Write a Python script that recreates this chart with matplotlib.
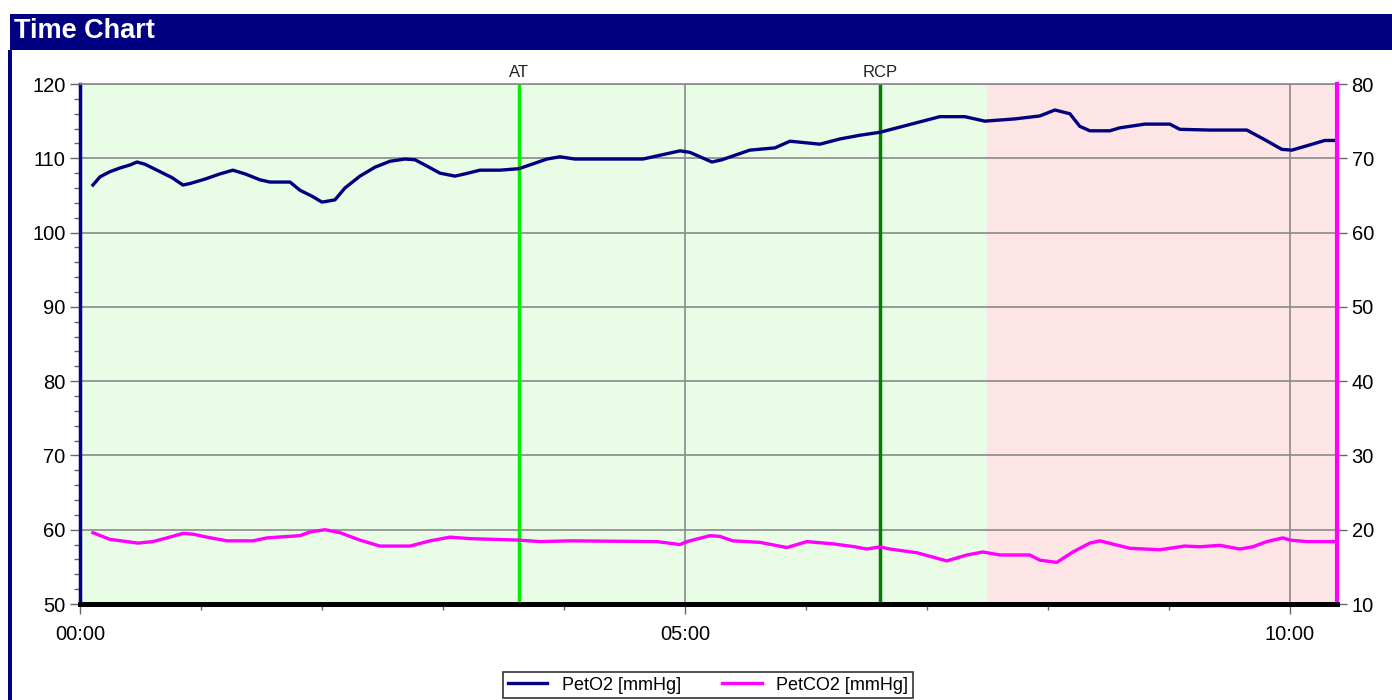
import matplotlib
matplotlib.use("Agg")
import matplotlib.pyplot as plt
from matplotlib.patches import Rectangle
from matplotlib.ticker import MultipleLocator, FuncFormatter, FixedLocator

plt.rcParams['font.family'] = ['Liberation Sans', 'DejaVu Sans']

# Elapsed time in minutes and end-tidal partial pressures
peto2_time = [0.107, 0.165, 0.248, 0.331, 0.413, 0.471, 0.537, 0.661, 0.760, 0.851,
              0.909, 1.033, 1.157, 1.264, 1.364, 1.488, 1.570, 1.736, 1.818, 1.917,
              2.000, 2.107, 2.190, 2.314, 2.438, 2.562, 2.686, 2.769, 2.851, 2.975,
              3.099, 3.182, 3.306, 3.471, 3.628, 3.860, 3.967, 4.091, 4.653, 4.959,
              5.041, 5.223, 5.306, 5.537, 5.744, 5.868, 6.116, 6.281, 6.446, 6.612,
              6.777, 6.942, 7.107, 7.314, 7.479, 7.727, 7.934, 8.058, 8.182, 8.264,
              8.347, 8.512, 8.595, 8.802, 9.008, 9.091, 9.339, 9.645, 9.793, 9.934,
              10.017, 10.165, 10.289, 10.372]
peto2 = [106.4, 107.5, 108.2, 108.7, 109.1, 109.5, 109.2, 108.2, 107.4, 106.4,
         106.6, 107.2, 107.9, 108.4, 107.9, 107.1, 106.8, 106.8, 105.7, 104.9,
         104.1, 104.4, 106.0, 107.6, 108.8, 109.6, 109.9, 109.8, 109.1, 108.0,
         107.6, 107.9, 108.4, 108.4, 108.6, 109.9, 110.2, 109.9, 109.9, 111.0,
         110.8, 109.5, 109.8, 111.1, 111.4, 112.3, 111.9, 112.6, 113.1, 113.5,
         114.2, 114.9, 115.6, 115.6, 115.0, 115.3, 115.7, 116.5, 116.0, 114.3,
         113.7, 113.7, 114.1, 114.6, 114.6, 113.9, 113.8, 113.8, 112.5, 111.2,
         111.1, 111.8, 112.4, 112.4]

petco2_time = [0.107, 0.248, 0.479, 0.603, 0.719, 0.851, 0.934, 1.050, 1.215, 1.430,
               1.545, 1.818, 1.901, 2.025, 2.149, 2.314, 2.479, 2.727, 2.893, 3.058,
               3.223, 3.628, 3.802, 4.050, 4.769, 4.959, 5.017, 5.207, 5.289, 5.397,
               5.620, 5.843, 6.008, 6.223, 6.405, 6.504, 6.612, 6.694, 6.917, 7.165,
               7.331, 7.463, 7.603, 7.851, 7.934, 8.074, 8.207, 8.347, 8.430, 8.678,
               8.926, 9.132, 9.256, 9.421, 9.587, 9.694, 9.810, 9.942, 10.000, 10.140,
               10.372]
petco2 = [19.6, 18.7, 18.2, 18.4, 18.9, 19.5, 19.4, 19.0, 18.5, 18.5,
          18.9, 19.2, 19.7, 20.0, 19.6, 18.6, 17.8, 17.8, 18.5, 19.0,
          18.8, 18.6, 18.4, 18.5, 18.4, 18.0, 18.4, 19.2, 19.1, 18.5,
          18.3, 17.6, 18.4, 18.1, 17.7, 17.4, 17.7, 17.4, 16.9, 15.8,
          16.6, 17.0, 16.6, 16.6, 15.9, 15.6, 17.0, 18.2, 18.5, 17.5,
          17.3, 17.8, 17.7, 17.9, 17.4, 17.7, 18.4, 18.9, 18.6, 18.4,
          18.4]

# Threshold markers (minutes)
at_time = 3.628
rcp_time = 6.612
zone_change = 7.5
t_end = 10.39

fig = plt.figure(figsize=(13.92, 7.0), dpi=100)

# Header bar and left frame stripe
fig.patches.append(Rectangle((10 / 1392, 1 - 50 / 700), 1 - 10 / 1392, 36 / 700,
                             transform=fig.transFigure, facecolor='#000080',
                             edgecolor='none', zorder=0))
fig.patches.append(Rectangle((8 / 1392, 0), 4 / 1392, 1 - 50 / 700,
                             transform=fig.transFigure, facecolor='#000080',
                             edgecolor='none', zorder=0))
fig.text(14 / 1392, 1 - 31 / 700, 'Time Chart', color='white', fontsize=19.5,
         fontweight='bold', va='center', ha='left')

ax = fig.add_axes([80 / 1392, 1 - 604 / 700, (1337 - 80) / 1392, 520 / 700])
ax.set_xlim(0, t_end)
ax.set_ylim(50, 120)

ax.axvspan(0, zone_change, color='#e9fce6', zorder=0, lw=0)
ax.axvspan(zone_change, t_end, color='#fde5e6', zorder=0, lw=0)

ax.yaxis.set_major_locator(MultipleLocator(10))
ax.yaxis.set_minor_locator(MultipleLocator(2))
ax.xaxis.set_major_locator(FixedLocator([0, 5, 10]))
ax.xaxis.set_minor_locator(MultipleLocator(1))
ax.xaxis.set_major_formatter(FuncFormatter(lambda v, p: f"{int(round(v)):02d}:00"))
ax.grid(True, which='major', color='#8a8a8a', lw=1.2, zorder=1)

ax.tick_params(axis='both', which='major', labelsize=14.5, length=7, width=1,
               color='#666666', direction='out')
ax.tick_params(axis='y', which='minor', length=4, width=1, color='#666666')
ax.tick_params(axis='x', which='minor', length=4, width=1, color='#666666')
ax.tick_params(axis='x', which='major', pad=8)

ax.spines['left'].set_color('#000090')
ax.spines['left'].set_linewidth(2.5)
ax.spines['bottom'].set_color('black')
ax.spines['bottom'].set_linewidth(3.5)
ax.spines['top'].set_color('#8a8a8a')
ax.spines['top'].set_linewidth(1.2)
ax.spines['right'].set_visible(False)

ax.axvline(at_time, color='#00ee00', lw=2.5, zorder=2)
ax.axvline(rcp_time, color='#008000', lw=2.5, zorder=2)
ax.text(at_time, 120.6, 'AT', ha='center', va='bottom', fontsize=12, color='#222222')
ax.text(rcp_time, 120.6, 'RCP', ha='center', va='bottom', fontsize=12, color='#222222')

l1, = ax.plot(peto2_time, peto2, color='#000080', lw=2.4, zorder=3,
              label='PetO2 [mmHg]')

ax2 = ax.twinx()
ax2.set_ylim(10, 80)
ax2.yaxis.set_major_locator(MultipleLocator(10))
ax2.tick_params(axis='y', which='major', labelsize=14.5, length=7, width=1,
                color='#666666')
ax2.spines['right'].set_color('#ff00ff')
ax2.spines['right'].set_linewidth(3)
ax2.spines['left'].set_visible(False)
ax2.spines['top'].set_visible(False)
ax2.spines['bottom'].set_color('black')
ax2.spines['bottom'].set_linewidth(3.5)
l2, = ax2.plot(petco2_time, petco2, color='#ff00ff', lw=2.4, zorder=3,
               label='PetCO2 [mmHg]')

leg = fig.legend(handles=[l1, l2], loc='lower center',
                 bbox_to_anchor=(708 / 1392, 0.0), ncol=2, fontsize=13,
                 frameon=True, fancybox=False, edgecolor='black',
                 borderpad=0.25, handlelength=2.2, columnspacing=2.3,
                 borderaxespad=0.1)
leg.get_frame().set_linewidth(1.2)

fig.savefig('out.png', dpi=100)
